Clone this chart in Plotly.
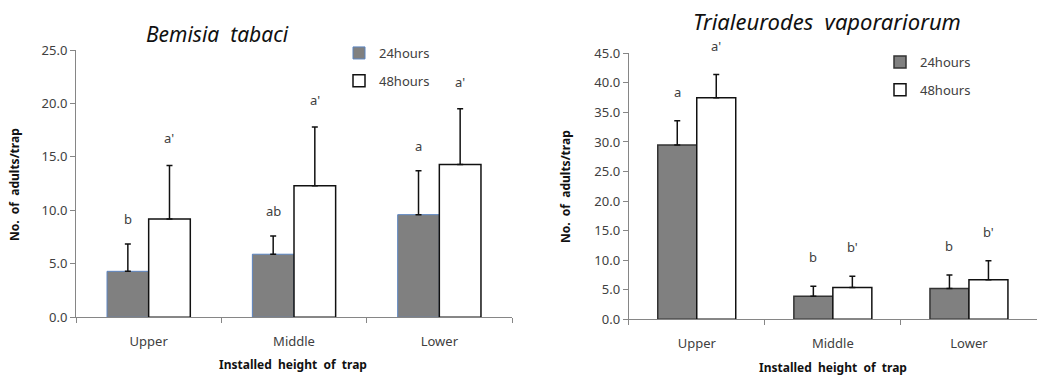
import plotly.graph_objects as go

# Trap heights
heights = ["Upper", "Middle", "Lower"]

# Bemisia tabaci: mean adults/trap and SD
bt_24h = [4.3, 5.9, 9.6]
bt_24h_sd = [2.55, 1.7, 4.1]
bt_48h = [9.2, 12.3, 14.3]
bt_48h_sd = [5.0, 5.5, 5.2]
bt_24h_letters = ["b", "ab", "a"]
bt_48h_letters = ["a'", "a'", "a'"]

# Trialeurodes vaporariorum: mean adults/trap and SD
tv_24h = [29.5, 3.9, 5.2]
tv_24h_sd = [4.1, 1.7, 2.3]
tv_48h = [37.5, 5.4, 6.7]
tv_48h_sd = [3.9, 1.9, 3.2]
tv_24h_letters = ["a", "b", "b"]
tv_48h_letters = ["a'", "b'", "b'"]

W, H = 1038, 377
FONT = "Noto Sans"
TXT = "#404040"
AXC = "#868686"
BARGAP = 0.427
HALF = (1 - BARGAP) / 4  # centre offset of each bar within a group


def px(x):
    return x / W


def py(y):
    return 1 - y / H


fig = go.Figure()


def add_pair(xa, ya, legend, m24, s24, m48, s48, edge24, edge24w):
    fig.add_bar(
        x=heights, y=m24, name="24hours", xaxis=xa, yaxis=ya, legend=legend,
        legendgroup=legend + "24",
        marker=dict(color="#808080", line=dict(color=edge24, width=edge24w)),
        error_y=dict(type="data", symmetric=False, array=s24,
                     arrayminus=[0] * len(s24), color="#111111",
                     thickness=1.5, width=3),
    )
    fig.add_bar(
        x=heights, y=m48, name="48hours", xaxis=xa, yaxis=ya, legend=legend,
        legendgroup=legend + "48",
        marker=dict(color="white", line=dict(color="#111111", width=1.5)),
        error_y=dict(type="data", symmetric=False, array=s48,
                     arrayminus=[0] * len(s48), color="#111111",
                     thickness=1.5, width=3),
    )


add_pair("x", "y", "legend", bt_24h, bt_24h_sd, bt_48h, bt_48h_sd, "#5b84c0", 1)
add_pair("x2", "y2", "legend2", tv_24h, tv_24h_sd, tv_48h, tv_48h_sd, "#333333", 1.5)

annotations = []


def letters(xref, yref, means, sds, labels, side, shift):
    for i, (m, s, t) in enumerate(zip(means, sds, labels)):
        annotations.append(dict(
            x=i + side * HALF, y=m + s, xref=xref, yref=yref, text=t,
            showarrow=False, yanchor="bottom", yshift=shift,
            font=dict(family=FONT, size=13, color=TXT),
        ))


letters("x", "y", bt_24h, bt_24h_sd, bt_24h_letters, -1, 14)
letters("x", "y", bt_48h, bt_48h_sd, bt_48h_letters, 1, 16)
letters("x2", "y2", tv_24h, tv_24h_sd, tv_24h_letters, -1, 18)
letters("x2", "y2", tv_48h, tv_48h_sd, tv_48h_letters, 1, 18)

bold = dict(family=FONT, size=12, color="#111111", weight="bold")

# Titles
annotations += [
    dict(x=px(217), y=py(34), xref="paper", yref="paper", text="Bemisia  tabaci",
         showarrow=False,
         font=dict(family=FONT, size=21, color="#111111", style="italic"),
         xanchor="center", yanchor="middle"),
    dict(x=px(827), y=py(21), xref="paper", yref="paper",
         text="Trialeurodes  vaporariorum", showarrow=False,
         font=dict(family=FONT, size=22, color="#111111", style="italic"),
         xanchor="center", yanchor="middle"),
    dict(x=px(293), y=py(364), xref="paper", yref="paper",
         text="Installed  height  of  trap", showarrow=False, font=bold,
         xanchor="center", yanchor="middle"),
    dict(x=px(833), y=py(367), xref="paper", yref="paper",
         text="Installed  height  of  trap", showarrow=False, font=bold,
         xanchor="center", yanchor="middle"),
    dict(x=px(14), y=py(185), xref="paper", yref="paper",
         text="No.  of  adults/trap", showarrow=False, textangle=-90, font=bold,
         xanchor="center", yanchor="middle"),
    dict(x=px(565), y=py(187), xref="paper", yref="paper",
         text="No.  of  adults/trap", showarrow=False, textangle=-90, font=bold,
         xanchor="center", yanchor="middle"),
]

xcommon = dict(
    type="category", showline=True, linecolor=AXC, linewidth=1,
    ticks="outside", tickson="boundaries", ticklen=5, tickcolor=AXC,
    showgrid=False, zeroline=False, ticklabelstandoff=12,
    tickfont=dict(family=FONT, size=13, color=TXT),
)
ycommon = dict(
    showline=True, linecolor=AXC, linewidth=1, ticks="outside", ticklen=5,
    tickcolor=AXC, showgrid=False, zeroline=False, tickformat=".1f",
    dtick=5, tickfont=dict(family=FONT, size=13, color=TXT),
)

legcommon = dict(
    bgcolor="rgba(0,0,0,0)", font=dict(family=FONT, size=13, color=TXT),
    xanchor="left", yanchor="top", tracegroupgap=8, itemwidth=30,
    traceorder="grouped",
)

fig.update_layout(
    width=W, height=H,
    margin=dict(l=0, r=0, t=0, b=0, autoexpand=False),
    paper_bgcolor="white", plot_bgcolor="white",
    barmode="group", bargap=BARGAP, bargroupgap=0,
    showlegend=True,
    xaxis=dict(domain=[px(76), px(512)], anchor="y", **xcommon),
    yaxis=dict(domain=[py(317.3), py(50)], range=[0, 25], anchor="x", **ycommon),
    xaxis2=dict(domain=[px(628.7), px(1037)], anchor="y2", **xcommon),
    yaxis2=dict(domain=[py(319.3), py(53.3)], range=[0, 45], anchor="x2", **ycommon),
    legend=dict(x=px(339), y=py(38), **legcommon),
    legend2=dict(x=px(880), y=py(47), **legcommon),
    annotations=annotations,
)

fig.write_html("out.html")
